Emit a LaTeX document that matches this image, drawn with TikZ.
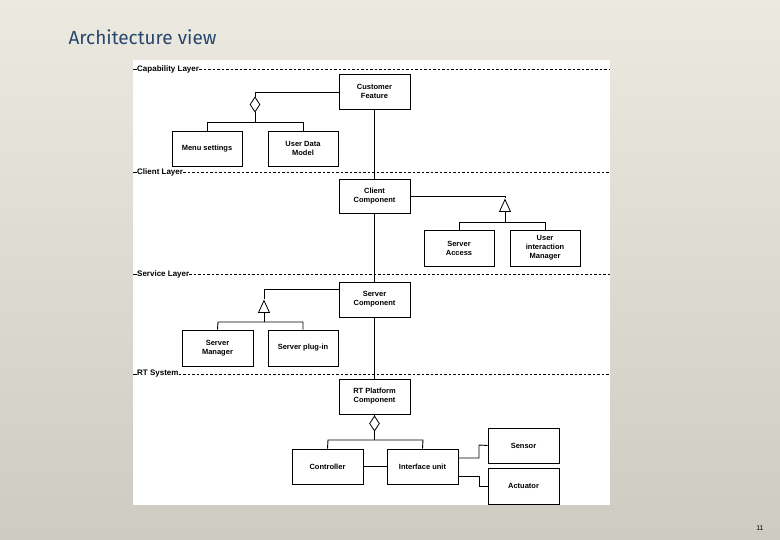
\documentclass[tikz,border=0pt]{standalone}
\usepackage{fontspec}
\setmainfont{Liberation Sans}
\newfontfamily\titlefont{Fira Sans}
\usetikzlibrary{shapes.geometric}
\definecolor{titleblue}{RGB}{40,70,110}
\begin{document}
\begin{tikzpicture}[x=1pt,y=-1pt,
  box/.style={draw,line width=0.9pt,fill=white,align=center,font=\fontsize{7.5}{9}\selectfont\bfseries,inner sep=0pt},
  lay/.style={anchor=west,font=\fontsize{8}{9}\selectfont\bfseries,inner sep=0pt},
  dl/.style={dash pattern=on 2.5pt off 2pt,line width=0.9pt},
  ln/.style={line width=0.9pt},
  dia/.style={draw,diamond,fill=white,line width=0.8pt,minimum width=10pt,minimum height=15pt,inner sep=0pt},
  tri/.style={draw,isosceles triangle,shape border rotate=90,fill=white,line width=0.8pt,minimum width=11pt,minimum height=12pt,inner sep=0pt,isosceles triangle stretches}]
\useasboundingbox (0,0) rectangle (780,540);
\shade[top color={rgb,255:red,236;green,234;blue,224},bottom color={rgb,255:red,205;green,203;blue,194}] (0,0) rectangle (780,540);
\node[anchor=west,text=titleblue,font=\titlefont\fontsize{19}{22}\selectfont] (title) at (65,37) {Architecture view};
\node[font=\fontsize{7}{8}\selectfont] (num) at (760,528) {11};
\fill[white] (133,60) rectangle (610,505);
% layers
\foreach \n/\t/\y in {L1/Capability Layer/69,L2/Client Layer/172,L3/Service Layer/274,L4/RT System/374}{
  \node[lay] (\n) at (137,\y) {\t};
  \draw[ln] (133,\y) -- (136.5,\y);
  \draw[dl] (\n.east) -- (610,\y);
}
% main line
\draw[ln] (374.5,92) -- (374.5,396);
% boxes
\node[box,minimum width=71pt,minimum height=35pt] (cf) at (374.5,91.5) {Customer\\Feature};
\node[box,minimum width=70pt,minimum height=35pt] (ms) at (207,148.5) {Menu settings};
\node[box,minimum width=70pt,minimum height=35pt] (ud) at (303,148.5) {User Data\\Model};
\node[box,minimum width=71pt,minimum height=34pt] (cc) at (374.5,196) {Client\\Component};
\node[box,minimum width=70pt,minimum height=36pt] (sa) at (459,248) {Server\\Access};
\node[box,minimum width=70pt,minimum height=36pt] (ui) at (545,248) {User\\interaction\\Manager};
\node[box,minimum width=71pt,minimum height=35pt] (sc) at (374.5,299.5) {Server\\Component};
\node[box,minimum width=71pt,minimum height=36pt] (sm) at (217.5,348) {Server\\Manager};
\node[box,minimum width=70pt,minimum height=36pt] (sp) at (303,348) {Server plug-in};
\node[box,minimum width=71pt,minimum height=35pt] (rt) at (374.5,396.5) {RT Platform\\Component};
\node[box,minimum width=71pt,minimum height=35pt] (co) at (327.5,466.5) {Controller};
\node[box,minimum width=71pt,minimum height=35pt] (iu) at (422.5,466.5) {Interface unit};
\node[box,minimum width=71pt,minimum height=35pt] (se) at (523.5,445.5) {Sensor};
\node[box,minimum width=71pt,minimum height=36pt] (ac) at (523.5,486) {Actuator};
% capability aggregation
\node[dia] (d1) at (255,104.5) {};
\draw[ln] (cf.west |- 0,92) -- (255,92) -- (d1.north);
\draw[ln] (d1.south) -- (255,122);
\draw[ln] (ms.north) -- (207,122) -- (303,122) -- (ud.north);
% client generalization
\node[tri] (t1) at (505,208) {};
\draw[ln] (cc.east |- 0,196) -- (505,196) -- (t1.apex);
\draw[ln] (t1.south) -- (505,222);
\draw[ln] (sa.north) -- (459,222) -- (545,222) -- (ui.north);
% server generalization
\node[tri] (t2) at (264,309) {};
\draw[ln] (sc.west |- 0,289) -- (264,289) -- (t2.apex);
\draw[ln] (t2.south) -- (264,322);
\draw[ln] (sm.north) -- (218,322) -- (303,322) -- (sp.north);
% RT aggregation
\node[dia] (d2) at (374.5,423.5) {};
\draw[ln] (rt.south) -- (d2.north);
\draw[ln] (d2.south) -- (374.5,440);
\draw[ln] (co.north) -- (328,440) -- (423,440) -- (iu.north);
\draw[ln] (co.east) -- (iu.west);
\draw[ln] (iu.east |- 0,458) -- (479,458) -- (479,445) -- (se.west);
\draw[ln] (iu.east |- 0,476) -- (479,476) -- (479,486) -- (ac.west);
\end{tikzpicture}
\end{document}
